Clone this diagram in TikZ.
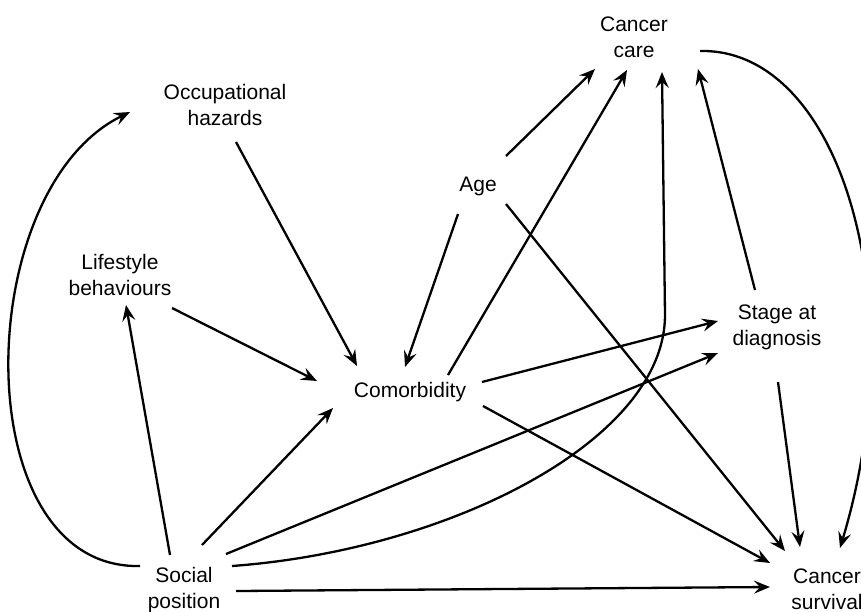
\documentclass[tikz,border=0pt]{standalone}
\usepackage{fontspec}
\setmainfont{Liberation Sans}
\usetikzlibrary{arrows.meta}
\begin{document}
\begin{tikzpicture}[x=1pt,y=-1pt,
  lbl/.style={align=center,inner sep=0pt,font=\fontsize{21}{26}\selectfont},
  arr/.style={line width=2.3pt,-{Stealth[length=16pt,width=13pt,inset=6pt]}}]
\clip (0,0) rectangle (861,611);
\fill[white] (0,0) rectangle (861,611);
\node[lbl] (care) at (634,37) {Cancer\\care};
\node[lbl] (occ) at (225,105) {Occupational\\hazards};
\node[lbl] (age) at (478,186) {Age};
\node[lbl] (life) at (120,275) {Lifestyle\\behaviours};
\node[lbl] (stage) at (777,327) {Stage at\\diagnosis};
\node[lbl] (comorb) at (410,392) {Comorbidity};
\node[lbl] (social) at (184,590) {Social\\position};
\node[lbl] (surv) at (827,589) {Cancer\\survival};
\coordinate (bend) at ([shift={(31,278)}]care.center);
% social position
\draw[arr] ([shift={(-44,-24)}]social.center) .. controls +(-175,4) and +(-160,78) .. ([shift={(-95,7)}]occ.center);
\draw[arr] ([shift={(-14,-35)}]social.center) -- ([shift={(6,30)}]life.center);
\draw[arr] ([shift={(18,-45)}]social.center) -- ([shift={(-77,16)}]comorb.center);
\draw[arr] ([shift={(42,-36)}]social.center) -- ([shift={(-59,26)}]stage.center);
\draw[arr] ([shift={(48,-24)}]social.center) .. controls +(218,-16) and +(0,125) .. (bend) -- ([shift={(28,35)}]care.center);
\draw[arr] ([shift={(52,1)}]social.center) -- ([shift={(-57,-2)}]surv.center);
% to comorbidity
\draw[arr] ([shift={(11,37)}]occ.center) -- ([shift={(-53,-26)}]comorb.center);
\draw[arr] ([shift={(52,33)}]life.center) -- ([shift={(-93,-11)}]comorb.center);
\draw[arr] ([shift={(-20,28)}]age.center) -- ([shift={(-5,-25)}]comorb.center);
% to cancer care
\draw[arr] ([shift={(28,-30)}]age.center) -- ([shift={(-39,32)}]care.center);
\draw[arr] ([shift={(38,-17)}]comorb.center) -- ([shift={(-7,33)}]care.center);
\draw[arr] ([shift={(-22,-37)}]stage.center) -- ([shift={(64,32)}]care.center);
% to cancer survival
\draw[arr] ([shift={(66,14)}]care.center) .. controls +(140,-3) and +(75,-248) .. ([shift={(13,-41)}]surv.center);
\draw[arr] ([shift={(1,55)}]stage.center) -- ([shift={(-27,-42)}]surv.center);
\draw[arr] ([shift={(28,18)}]age.center) -- ([shift={(-42,-38)}]surv.center);
\draw[arr] ([shift={(73,14)}]comorb.center) -- ([shift={(-57,-26)}]surv.center);
% comorbidity to stage
\draw[arr] ([shift={(72,-10)}]comorb.center) -- ([shift={(-59,-6)}]stage.center);
\end{tikzpicture}
\end{document}
